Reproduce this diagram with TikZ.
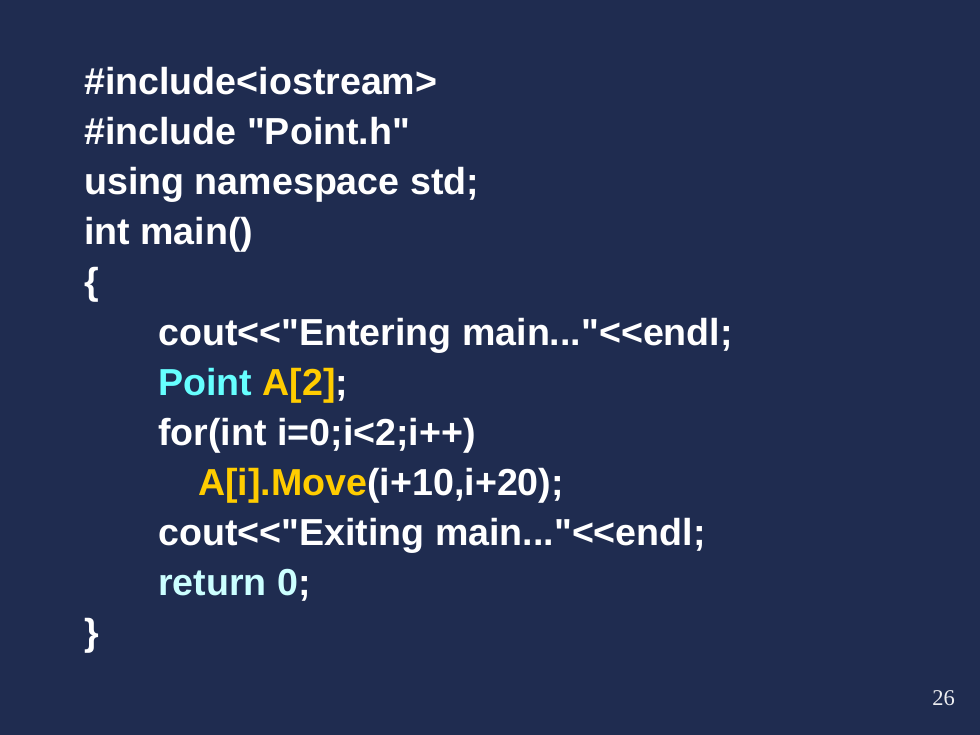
\documentclass[tikz,border=0pt]{standalone}
\usepackage{fontspec}
\setmainfont{Liberation Sans}[Ligatures=TeXOff]
\newfontfamily\slidenumfont{Liberation Serif}
\definecolor{slidebg}{HTML}{1F2C50}
\definecolor{typecyan}{HTML}{66FFFF}
\definecolor{identyellow}{HTML}{FFCC00}
\definecolor{keywordcyan}{HTML}{CCFFFF}

\begin{document}
\begin{tikzpicture} [x=1pt, y=-1pt,
		% define styles
		codeline/.style={
			% Placement:
			anchor=base west,
			inner sep=0pt,
			% Font
			font=\fontsize{37.6}{45}\selectfont\bfseries,
			text=white
		},
		slidenum/.style={
			% Placement:
			anchor=base east,
			inner sep=0pt,
			% Font
			font=\fontsize{22.5}{27}\selectfont\slidenumfont,
			text=white!92!slidebg
		}]
		% end of style definition
		
		% background
		\fill [slidebg] (0,0) rectangle (980,735);
		
		% draw code lines
		\node (iInclude1) [codeline] at (84,95) {\#include<iostream>};
		\node (iInclude2) [codeline] at (84,145) {\#include "Point.h"};
		\node (iUsing) [codeline] at (84,195) {using namespace std;};
		\node (iMain) [codeline] at (84,245) {int main()};
		\node (iOpen) [codeline] at (84,295) {\{};
		\node (iCout1) [codeline] at (158,345) {cout<<"Entering main..."<<endl;};
		\node (iPoint) [codeline] at (158,395) {\textcolor{typecyan}{Point} \textcolor{identyellow}{A[2]};};
		\node (iFor) [codeline] at (158,445) {for(int i=0;i<2;i++)};
		\node (iMove) [codeline] at (198,495) {\textcolor{identyellow}{A[i].Move}(i+10,i+20);};
		\node (iCout2) [codeline] at (158,545) {cout<<"Exiting main..."<<endl;};
		\node (iReturn) [codeline] at (158,595) {\textcolor{keywordcyan}{return 0};};
		\node (iClose) [codeline] at (84,645) {\}};
		
		% slide number
		\node (iPage) [slidenum] at (955,705) {26};
	\end{tikzpicture}
\end{document}
